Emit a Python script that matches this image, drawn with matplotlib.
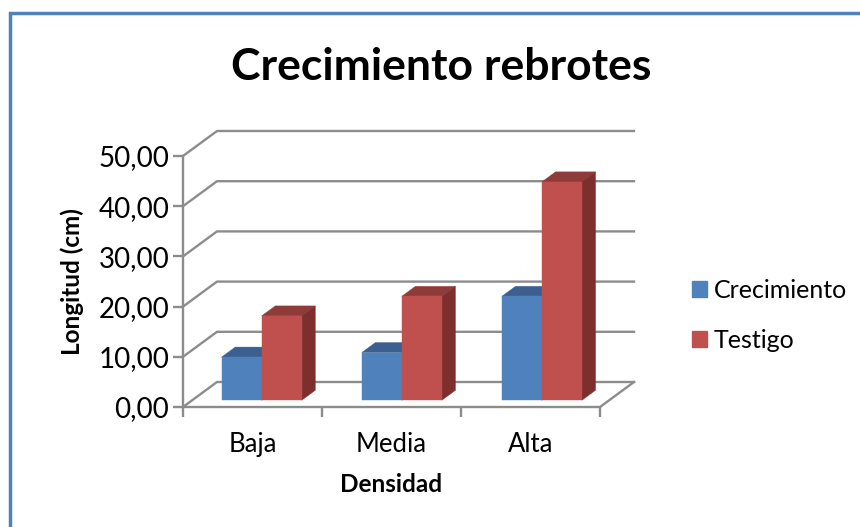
import matplotlib
matplotlib.use('Agg')
import matplotlib.pyplot as plt
from matplotlib.lines import Line2D
from matplotlib.patches import Patch, Polygon

plt.rcParams['font.family'] = ['Lato', 'DejaVu Sans']

categories = ['Baja', 'Media', 'Alta']
crecimiento = [8.6, 9.5, 20.7]
testigo = [16.8, 20.7, 43.5]
y_ticks = [0, 10, 20, 30, 40, 50]
y_labels = ['0,00', '10,00', '20,00', '30,00', '40,00', '50,00']

W, H = 860, 527
GRID = '#8c8c8c'
DX = 34 / 139   # depth of the fake 3d box, in category units
DY = 25 / 5.02  # same, in value units
BAR_W = 0.288


def pt(x, v, depth):
    return (x + depth * DX, v + depth * DY)


def bar3d(ax, x, v, front, top, side):
    z0, z1, x1 = 0.27, 0.67, x + BAR_W
    faces = [
        ([pt(x, v, z0), pt(x1, v, z0), pt(x1, v, z1), pt(x, v, z1)], top),
        ([pt(x1, 0, z0), pt(x1, v, z0), pt(x1, v, z1), pt(x1, 0, z1)], side),
        ([pt(x, 0, z0), pt(x1, 0, z0), pt(x1, v, z0), pt(x, v, z0)], front),
    ]
    for xy, c in faces:
        ax.add_patch(Polygon(xy, closed=True, facecolor=c, edgecolor=c, lw=0.3,
                             clip_on=False, zorder=3))


fig = plt.figure(figsize=(W / 100, H / 100), dpi=100)
ax = fig.add_axes([183 / W, 1 - 407 / H, 417 / W, 251 / H])
ax.set_xlim(0, 3)
ax.set_ylim(0, 50)
for s in ['top', 'right']:
    ax.spines[s].set_visible(False)
for s in ['left', 'bottom']:
    ax.spines[s].set_color(GRID)
    ax.spines[s].set_linewidth(1.7)

# walls and floor
for v in y_ticks:
    ax.plot([0, DX, 3 + DX], [v, v + DY, v + DY], color=GRID, lw=1.7,
            clip_on=False, zorder=1)
ax.plot([3, 3 + DX], [0, DY], color=GRID, lw=1.7, clip_on=False, zorder=1)

for i in range(len(categories)):
    left = i * 1.008 + 0.5 - BAR_W
    bar3d(ax, left, crecimiento[i], '#4f81bd', '#3b6090', '#34557f')
    bar3d(ax, left + BAR_W, testigo[i], '#c0504d', '#8f3b39', '#7c2f2d')

ax.set_yticks(y_ticks)
ax.set_yticklabels(y_labels, fontsize=20)
ax.set_xticks([0, 1, 2, 3])
ax.set_xticklabels([])
ax.set_xticks([0.5, 1.5, 2.5], labels=categories, minor=True, fontsize=18.5)
ax.tick_params(axis='both', which='major', color=GRID, width=1.7, length=7)
ax.tick_params(axis='x', which='minor', length=0, pad=18)
ax.tick_params(axis='y', pad=3, colors='black')
ax.tick_params(axis='y', color=GRID)

ax.set_ylabel('Longitud (cm)', fontsize=17.5, fontweight='bold', va='center')
ax.yaxis.set_label_coords((72 - 183) / 417, (407 - 282) / 251)
ax.set_xlabel('Densidad', fontsize=17.5, fontweight='bold', va='center')
ax.xaxis.set_label_coords((391 - 183) / 417, (407 - 484) / 251)

fig.text(441 / W, 1 - 67 / H, 'Crecimiento rebrotes', fontsize=32, fontweight='bold',
         ha='center', va='center')

handles = [Patch(color='#4f81bd', label='Crecimiento'), Patch(color='#c0504d', label='Testigo')]
fig.legend(handles=handles, loc='center left', bbox_to_anchor=(692 / W, 1 - 315 / H),
           frameon=False, fontsize=18, handlelength=0.6, handleheight=0.6,
           handletextpad=0.28, labelspacing=1.08, borderpad=0, borderaxespad=0)

# outer frame of the picture
fig.add_artist(Line2D([9.5 / W, 9.5 / W, 1], [0, 1 - 12.5 / H, 1 - 12.5 / H],
                      color='#4f81bd', lw=2.5, solid_joinstyle='miter'))

fig.savefig('out.png', dpi=100)
